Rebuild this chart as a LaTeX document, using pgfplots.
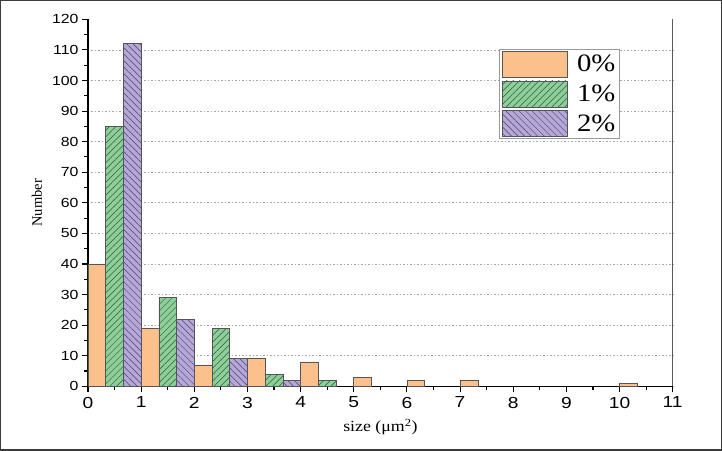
\documentclass[border=0pt]{standalone}
\usepackage{fontspec}
\setmainfont{Liberation Serif}[FakeStretch=1.15]
\newfontfamily\plainserif{Liberation Serif}
\newfontfamily\ticksans{Liberation Sans}[FakeStretch=1.2]
\usepackage{pgfplots}
\pgfplotsset{compat=1.18}
\usetikzlibrary{patterns.meta}
\definecolor{cOrange}{RGB}{252,192,140}
\definecolor{cGreen}{RGB}{142,206,154}
\definecolor{cPurple}{RGB}{182,168,214}
\definecolor{lGreen}{RGB}{40,95,55}
\definecolor{lPurple}{RGB}{75,62,115}
\definecolor{cEdge}{RGB}{85,85,85}
\definecolor{cFrame}{RGB}{60,60,60}
\pgfplotsset{boxlegend/.style={legend image code/.code={\draw[##1] (0pt,-13pt) rectangle (65pt,13pt);}}}
\begin{document}
\begin{tikzpicture}
\begin{axis}[
  scale only axis,
  width=584.7pt, height=367pt,
  xmin=0, xmax=11, ymin=0, ymax=120,
  axis x line*=bottom, axis y line*=left,
  axis line style={-, line width=1.3pt, black},
  xtick={0,1,...,11},
  minor xtick={0.5,1.5,...,10.5},
  ytick={0,10,...,110},
  extra y ticks={120},
  extra y tick style={grid=none},
  minor ytick={5,15,...,115},
  tick align=outside,
  major tick length=6pt, minor tick length=3.5pt,
  tick style={black, line width=1.1pt},
  ymajorgrids,
  grid style={gray!70, line width=0.7pt, dash pattern=on 1.5pt off 2pt},
  /pgf/number format/assume math mode=true,
  x tick label style={font=\ticksans\fontsize{16}{16}\selectfont, yshift=-1pt},
  y tick label style={font=\ticksans\fontsize{13.2}{14}\selectfont},
  xlabel={size (μm\textsuperscript{2})},
  ylabel={Number},
  every axis x label/.style={at={(axis description cs:0.5,-0.1117)}, anchor=center, font=\fontsize{15.5}{16}\selectfont},
  every axis y label/.style={at={(axis description cs:-0.0872,0.5)}, anchor=center, rotate=90, font=\plainserif\fontsize{14.5}{15}\selectfont},
  legend cell align=left,
  legend style={at={(0.703,0.920)}, anchor=north west, draw=gray!80, line width=0.8pt,
    inner xsep=3pt, inner ysep=2pt, row sep=3pt,
    font=\fontsize{25}{25}\selectfont,
    nodes={inner sep=1pt},
    /tikz/every odd column/.append style={column sep=8pt}},
]
\addplot[ybar, bar width=0.33333, bar shift=0pt, fill=cOrange, draw=cEdge, line width=0.6pt, boxlegend]
  coordinates {(0.16667,40) (1.16667,19) (2.16667,7) (3.16667,9) (4.16667,8) (5.16667,3) (6.16667,2) (7.16667,2) (10.16667,1)};
\addlegendentry{0\%}
\addplot[ybar, bar width=0.33333, bar shift=0pt, fill=cGreen, draw=cEdge, line width=0.6pt,
  postaction={pattern={Lines[angle=45,distance=4.6pt,line width=0.5pt]}, pattern color=lGreen}, boxlegend]
  coordinates {(0.5,85) (1.5,29) (2.5,19) (3.5,4) (4.5,2)};
\addlegendentry{1\%}
\addplot[ybar, bar width=0.33333, bar shift=0pt, fill=cPurple, draw=cEdge, line width=0.6pt,
  postaction={pattern={Lines[angle=-45,distance=4.6pt,line width=0.5pt]}, pattern color=lPurple}, boxlegend]
  coordinates {(0.83333,112) (1.83333,22) (2.83333,9) (3.83333,2)};
\addlegendentry{2\%}
\draw[line width=1.3pt, black] (rel axis cs:1,0) -- (rel axis cs:1,1);
\end{axis}
\draw[cFrame, line width=1.5pt] (-87.25pt,-63.55pt) rectangle (633.25pt,385.55pt);
\end{tikzpicture}
\end{document}
